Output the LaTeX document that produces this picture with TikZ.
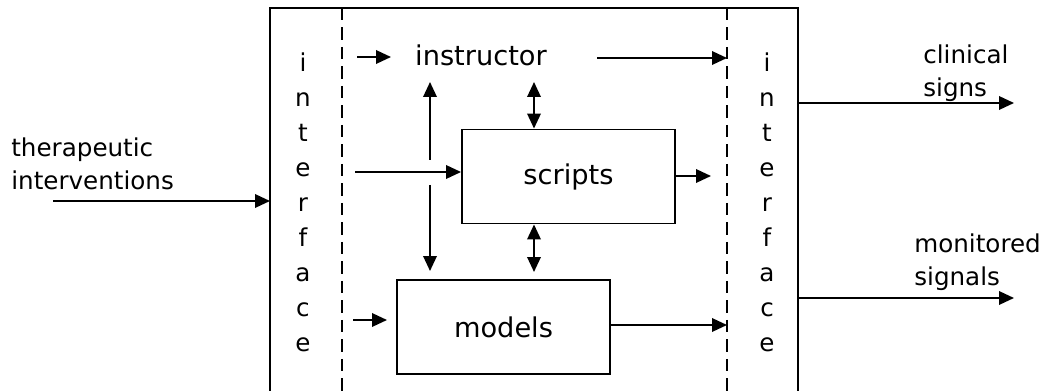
\documentclass[tikz,border=0pt]{standalone}
\usepackage{fontspec}
\setmainfont{DejaVu Sans}
\usetikzlibrary{arrows.meta}
\begin{document}
\begin{tikzpicture}[x=0.02cm,y=-0.02cm,
  wire/.style={line width=1.1pt},
  tip/.tip={Triangle[length=0.3cm,width=0.27cm]},
  arr/.style={wire,-tip},
  darr/.style={wire,tip-tip},
  sep/.style={line width=1.1pt,dash pattern=on 0.25cm off 0.14cm},
  block/.style={draw,line width=1.1pt,minimum width=213*0.02cm,minimum height=94*0.02cm,inner sep=0pt,font=\fontsize{15.5}{15.5}\selectfont},
  lbl/.style={inner sep=0pt,font=\fontsize{15.5}{15.5}\selectfont},
  side/.style={inner sep=0pt,align=left,font=\fontsize{14}{18.5}\selectfont},
  letters/.style={inner sep=0pt,align=center,font=\fontsize{14}{19.9}\selectfont}]
\useasboundingbox (0,0) rectangle (1047,391);
% outer frame and the two dashed interface borders
\coordinate (ftl) at (270,8);
\coordinate (ftr) at (798,8);
\coordinate (fbl) at (270,391);
\coordinate (fbr) at (798,391);
\draw[wire] (fbl) -- (ftl) -- (ftr) -- (fbr);
\coordinate (dlt) at (342,8);
\coordinate (dlb) at (342,391);
\coordinate (drt) at (727,8);
\coordinate (drb) at (727,391);
\draw[sep] (dlt) -- (dlb);
\draw[sep] (drt) -- (drb);
% vertical interface labels
\node[letters] (ifl) at (303,202) {i\\n\\t\\e\\r\\f\\a\\c\\e};
\node[letters] (ifr) at (767,202) {i\\n\\t\\e\\r\\f\\a\\c\\e};
% inner blocks
\node[lbl] (instr) at (481,55) {instructor};
\node[block] (scripts) at (568.5,176.5) {scripts};
\node[block] (models) at (503.5,327) {models};
% external labels
\node[side,anchor=west] (ther) at (11,164) {therapeutic\\interventions};
\node[side,anchor=west] (clin) at (923,73) {clinical\\signs};
\node[side,anchor=west] (mon) at (914,262) {monitored\\signals};
% input to the simulator
\coordinate (tin) at (53,201);
\draw[arr] (tin) -- (fbl |- tin);
% outputs of the simulator
\coordinate (cs) at (1014,103);
\coordinate (ms) at (1014,298);
\draw[arr] (ftr |- cs) -- (cs);
\draw[arr] (ftr |- ms) -- (ms);
% arrows inside
\coordinate (ia0) at (357,57);
\coordinate (ia1) at (391,57);
\draw[arr] (ia0) -- (ia1);
\coordinate (io0) at (597,58);
\draw[arr] (io0) -- (drt |- io0);
\coordinate (si0) at (355,172);
\draw[arr] (si0) -- (scripts.west |- si0);
\coordinate (up0) at (430,160);
\coordinate (up1) at (430,82);
\draw[arr] (up0) -- (up1);
\coordinate (dn0) at (430,185);
\coordinate (dn1) at (430,271);
\draw[arr] (dn0) -- (dn1);
\coordinate (dd0) at (534,82);
\draw[darr] (dd0) -- (scripts.north -| dd0);
\coordinate (dd1) at (534,272);
\draw[darr] (scripts.south -| dd1) -- (dd1);
\coordinate (so1) at (711,176);
\draw[arr] (scripts.east |- so1) -- (so1);
\coordinate (mi0) at (353,320);
\coordinate (mi1) at (387,320);
\draw[arr] (mi0) -- (mi1);
\coordinate (mo) at (727,325);
\draw[arr] (models.east |- mo) -- (mo);
\end{tikzpicture}
\end{document}
